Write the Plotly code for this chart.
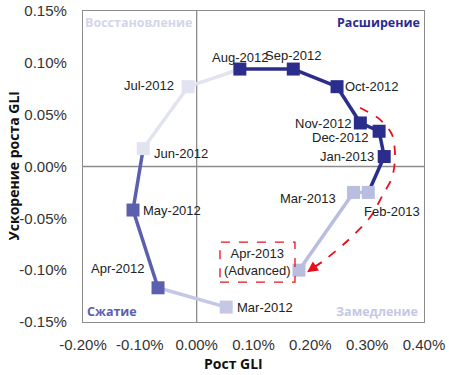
import plotly.graph_objects as go

months = ["Mar-2012", "Apr-2012", "May-2012", "Jun-2012", "Jul-2012", "Aug-2012",
          "Sep-2012", "Oct-2012", "Nov-2012", "Dec-2012", "Jan-2013", "Feb-2013",
          "Mar-2013", "Apr-2013"]
gli_growth = [0.052, -0.068, -0.112, -0.094, -0.015, 0.076, 0.170, 0.247, 0.288,
              0.321, 0.330, 0.302, 0.276, 0.180]
gli_accel = [-0.1356, -0.117, -0.042, 0.0173, 0.077, 0.094, 0.094, 0.077, 0.042,
             0.034, 0.0096, -0.025, -0.025, -0.100]
phase = ["slow", "contr", "contr", "recov", "recov", "exp", "exp", "exp", "exp",
         "exp", "exp", "slow2", "slow2", "slow2"]

x_ticks = [-0.2, -0.1, 0.0, 0.1, 0.2, 0.3, 0.4]
y_ticks = [-0.15, -0.10, -0.05, 0.0, 0.05, 0.10, 0.15]

# red dashed trend arrow
trend_x = [0.2875, 0.3227, 0.3438, 0.3491, 0.3438, 0.3280, 0.3051, 0.2646, 0.2224, 0.200]
trend_y = [0.0567, 0.0452, 0.0308, 0.0087, -0.0106, -0.0269, -0.0490, -0.0721, -0.0913, -0.0995]

colors = {"exp": "#2B2D8C", "contr": "#5B60AE", "recov": "#E2E3F1",
          "slow": "#C5C8E4", "slow2": "#B9BDE0"}

# label placement: (xanchor, xshift, yshift)
label_pos = {
    "Mar-2012": ("left", 9, 0), "Apr-2012": ("right", -12, 19),
    "May-2012": ("left", 8, 0), "Jun-2012": ("left", 9, -5),
    "Jul-2012": ("right", -12, 1), "Aug-2012": ("center", 0, 12),
    "Sep-2012": ("center", 0, 14), "Oct-2012": ("left", 6, 0),
    "Nov-2012": ("right", -7, -1), "Dec-2012": ("right", -9, -6),
    "Jan-2013": ("right", -8, 0), "Feb-2013": ("left", -6, -19),
    "Mar-2013": ("right", -16, -6),
}

fig = go.Figure()

for i in range(len(months) - 1):
    fig.add_trace(go.Scatter(
        x=gli_growth[i:i + 2], y=gli_accel[i:i + 2], mode="lines",
        line=dict(color=colors[phase[i]], width=3.5), hoverinfo="skip",
        showlegend=False))

fig.add_trace(go.Scatter(
    x=gli_growth, y=gli_accel, mode="markers", text=months,
    marker=dict(symbol="square", size=13, color=[colors[p] for p in phase]),
    showlegend=False))

fig.add_trace(go.Scatter(
    x=trend_x, y=trend_y, mode="lines",
    line=dict(color="#E8101C", width=1.8, dash="dash", shape="spline", smoothing=0.8),
    hoverinfo="skip", showlegend=False))

anns = []
for m, x, y in zip(months, gli_growth, gli_accel):
    if m not in label_pos:
        continue
    xa, xs, ys = label_pos[m]
    anns.append(dict(x=x, y=y, text=m, showarrow=False, xanchor=xa, xshift=xs, yshift=ys,
                     font=dict(size=13, color="#222222")))

anns.append(dict(x=0.107, y=-0.092, text="Apr-2013<br>(Advanced)", showarrow=False,
                 font=dict(size=13, color="#222222")))
# arrow head
anns.append(dict(x=0.1942, y=-0.1019, ax=trend_x[-2], ay=trend_y[-2], xref="x", yref="y",
                 axref="x", ayref="y", text="", showarrow=True, arrowhead=2, arrowsize=1.2,
                 arrowwidth=1.8, arrowcolor="#E8101C"))

quad_font = "Open Sans"
anns += [
    dict(x=-0.2, y=0.15, xref="x", yref="y", text="<b>Восстановление</b>", showarrow=False,
         xanchor="left", yanchor="top", xshift=0, yshift=-1,
         font=dict(size=12.5, color="#D3D5EB", family=quad_font)),
    dict(x=0.4, y=0.15, text="<b>Расширение</b>", showarrow=False,
         xanchor="right", yanchor="top", xshift=-2, yshift=-1,
         font=dict(size=12.5, color="#2B2D8C", family=quad_font)),
    dict(x=-0.2, y=-0.15, text="<b>Сжатие</b>", showarrow=False,
         xanchor="left", yanchor="bottom", xshift=2, yshift=0,
         font=dict(size=12.5, color="#5B60AE", family=quad_font)),
    dict(x=0.4, y=-0.15, text="<b>Замедление</b>", showarrow=False,
         xanchor="right", yanchor="bottom", xshift=-4, yshift=0,
         font=dict(size=12.5, color="#C5C8E4", family=quad_font)),
    # axis titles
    dict(x=0.5, y=0, xref="paper", yref="paper", text="<b>Рост GLI</b>",
         showarrow=False, xanchor="center", yanchor="top", xshift=-20, yshift=-30,
         font=dict(size=14, family=quad_font, color="#111111")),
    dict(x=0, y=0.5, xref="paper", yref="paper", text="<b>Ускорение роста GLI</b>",
         showarrow=False, textangle=-90, xanchor="center", yanchor="middle", xshift=-70,
         font=dict(size=14, family=quad_font, color="#111111")),
]

shapes = [
    dict(type="line", x0=0, x1=0, y0=-0.15, y1=0.15, xref="x", yref="y",
         line=dict(color="#8C8C8C", width=1.3), layer="below"),
    dict(type="line", x0=-0.2, x1=0.4, y0=0, y1=0, xref="x", yref="y",
         line=dict(color="#8C8C8C", width=1.3), layer="below"),
    dict(type="rect", x0=0.041, x1=0.173, y0=-0.1115, y1=-0.073, xref="x", yref="y",
         line=dict(color="#E8101C", width=1.3, dash="dash"), layer="above"),
]

fig.update_layout(
    width=449, height=375,
    margin=dict(l=83, r=25, t=11, b=53),
    paper_bgcolor="white", plot_bgcolor="white",
    font=dict(family="Liberation Sans, Arial, sans-serif", size=14, color="#222222"),
    annotations=anns, shapes=shapes,
    xaxis=dict(range=[-0.2, 0.4], tickvals=x_ticks, automargin=False,
               ticktext=[f"{v:.2f}%" for v in x_ticks], showgrid=False, zeroline=False,
               showline=True, mirror=True, linecolor="#8C8C8C", linewidth=1.3,
               ticks="", ticklabelstandoff=9, tickfont=dict(size=15, color="#333333")),
    yaxis=dict(range=[-0.15, 0.15], tickvals=y_ticks, automargin=False,
               ticktext=[f"{v:.2f}%" for v in y_ticks], showgrid=False, zeroline=False,
               showline=True, mirror=True, linecolor="#8C8C8C", linewidth=1.3,
               ticks="", ticklabelstandoff=12, tickfont=dict(size=15, color="#333333")),
)

fig.write_html("out.html", config={"displayModeBar": False},
               post_script="document.body.style.margin='0';")
